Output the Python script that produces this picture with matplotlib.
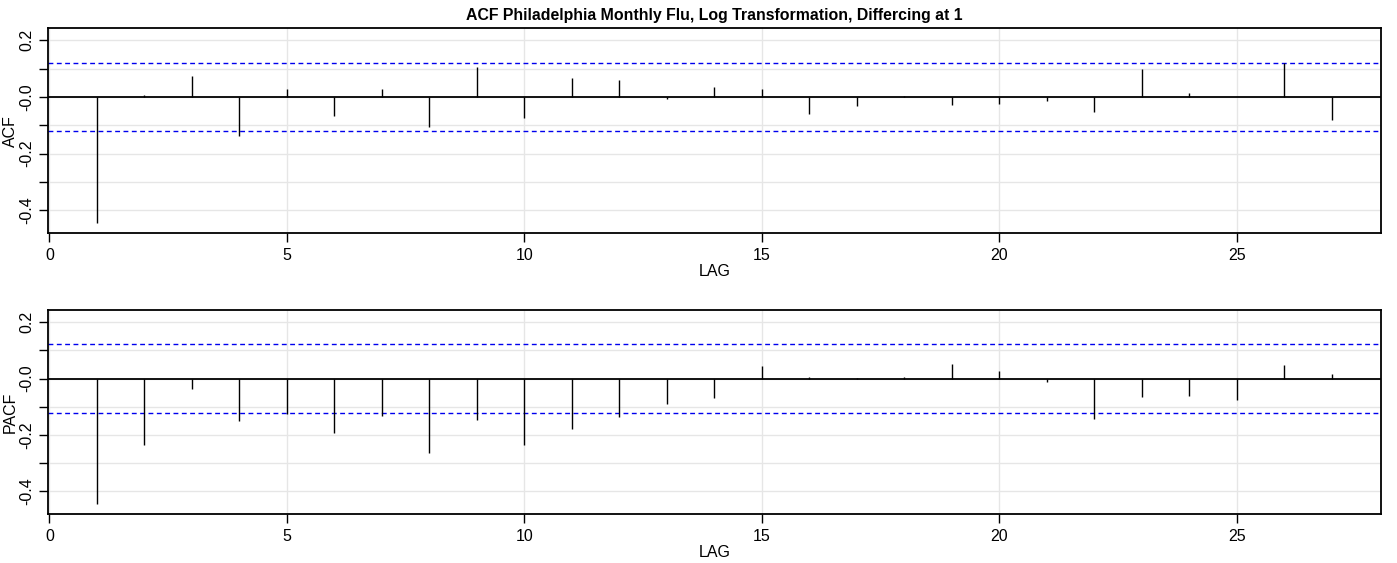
"""ACF / PACF of Philadelphia monthly flu (log, differenced at 1)."""
import matplotlib

matplotlib.use("Agg")
import matplotlib.pyplot as plt
import numpy as np

plt.rcParams["font.family"] = ["Liberation Sans", "DejaVu Sans"]

lags = list(range(1, 28))
acf_vals = [-0.446, 0.008, 0.075, -0.139, 0.027, -0.069, 0.027, -0.105, 0.107,
            -0.073, 0.068, 0.058, -0.008, 0.036, 0.029, -0.062, -0.031, 0.002,
            -0.027, -0.024, -0.016, -0.052, 0.100, 0.015, 0.001, 0.119, -0.080]
pacf_vals = [-0.444, -0.236, -0.037, -0.150, -0.127, -0.192, -0.132, -0.262, -0.146,
             -0.236, -0.178, -0.136, -0.090, -0.069, 0.043, 0.005, 0.001, 0.004,
             0.050, 0.026, -0.013, -0.143, -0.065, -0.062, -0.076, 0.047, 0.015]
ci = 0.121
title = "ACF Philadelphia Monthly Flu, Log Transformation, Differcing at 1"

W, H = 1397, 563
fig = plt.figure(figsize=(W / 100, H / 100), dpi=100)


def px_axes(left, top, right, bottom):
    return fig.add_axes([left / W, 1 - bottom / H, (right - left) / W, (bottom - top) / H])


def draw_panel(ax, vals, ylabel):
    ax.set_xlim(-0.035, 28.04)
    ax.set_ylim(-0.481, 0.242)
    yt = np.round(np.arange(-0.4, 0.21, 0.1), 1)
    ax.set_yticks(yt)
    ax.set_yticklabels([f"{v:.1f}" if round(v * 10) % 2 == 0 else "" for v in yt])
    ax.set_xticks([0, 5, 10, 15, 20, 25])
    for v in yt:
        ax.axhline(v, color="#e6e6e6", lw=1, zorder=0)
    for v in [0, 5, 10, 15, 20, 25]:
        ax.axvline(v, color="#e6e6e6", lw=1, zorder=0)
    ax.axhline(0, color="black", lw=1.3, zorder=2)
    ax.axhline(ci, color="#0000ee", lw=1, dashes=(3.5, 2.5), zorder=2)
    ax.axhline(-ci, color="#0000ee", lw=1, dashes=(3.5, 2.5), zorder=2)
    ax.vlines(lags, 0, vals, color="black", lw=1, zorder=3)
    for s in ax.spines.values():
        s.set_linewidth(1.3)
    ax.tick_params(direction="out", length=6.5, width=1, labelsize=11.5, color="black")
    ax.tick_params(axis="x", pad=4)
    ax.tick_params(axis="y", pad=3)
    for lab in ax.get_yticklabels():
        lab.set_rotation(90)
        lab.set_va("center")
    ax.set_ylabel(ylabel, fontsize=11.5, labelpad=1)
    ax.set_xlabel("LAG", fontsize=11.5, labelpad=1)


ax1 = px_axes(47.7, 28.3, 1381.3, 233.3)
draw_panel(ax1, acf_vals, "ACF")
ax1.set_title(title, fontsize=11.4, fontweight="bold", pad=6)

ax2 = px_axes(47.7, 310.3, 1381.3, 514.3)
draw_panel(ax2, pacf_vals, "PACF")

fig.savefig("out.png", dpi=100)
